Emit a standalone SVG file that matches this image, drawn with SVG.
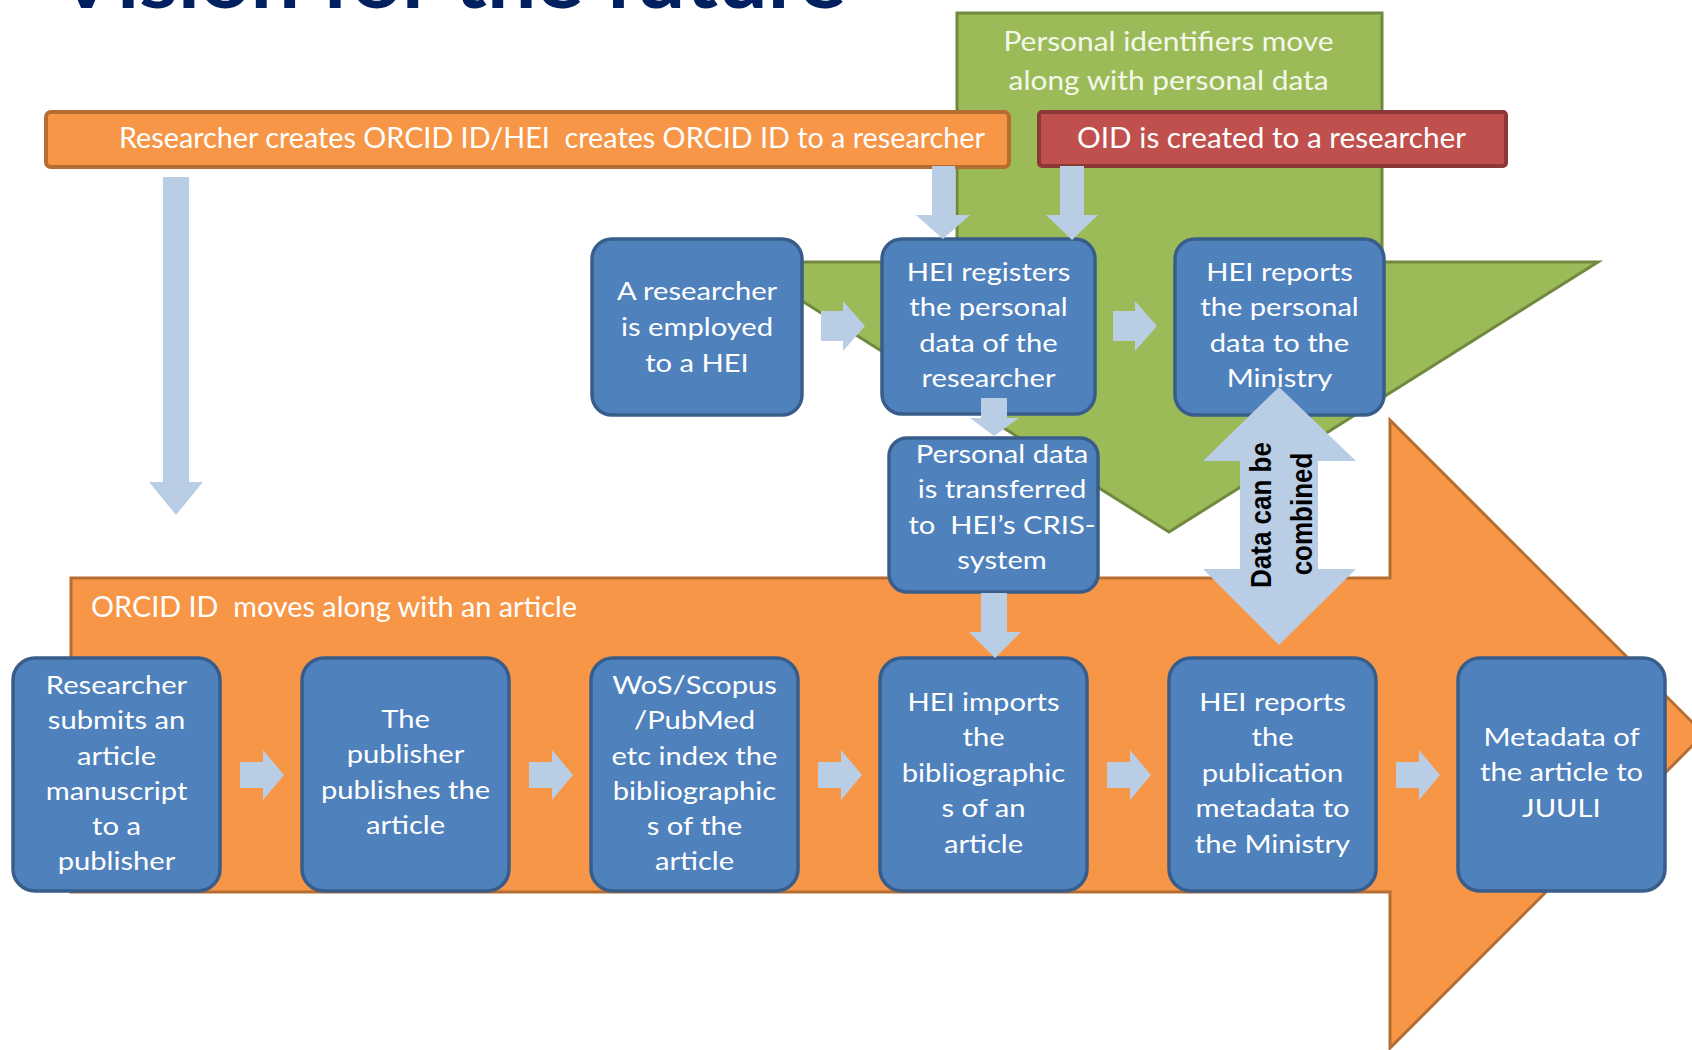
<svg xmlns="http://www.w3.org/2000/svg" width="1692" height="1050" viewBox="0 0 1692 1050">
<style>
.bx{fill:#4f81bd;stroke:#385d8a;stroke-width:3.5}
.ar{fill:#b9cde5;stroke:none}
.bt{font-family:Lato,"Noto Sans",sans-serif;font-size:24.5px;fill:#ffffff;text-anchor:middle}
.lt{font-family:Lato,"Noto Sans",sans-serif;font-size:28px;fill:#ffffff}
.gt{font-family:Lato,"Noto Sans",sans-serif;font-size:27px;fill:#f4f8ea}
.dt{font-family:"Liberation Sans",Arial,sans-serif;font-size:26px;font-weight:700;fill:#000000;text-anchor:middle}
</style>
<rect width="1692" height="1050" fill="#ffffff"/>
<text x="56" y="8" font-family="Lato, 'Liberation Sans', sans-serif" font-weight="700" font-size="80" fill="#002060" textLength="790" lengthAdjust="spacingAndGlyphs">Vision for the future</text>

<g id="background-shapes">
  <polygon id="green-arrow" points="957,13 1382,13 1382,262 1598,262 1169,532 740,262 957,262" fill="#9bbb59" stroke="#71893f" stroke-width="3"/>
  <polygon id="orange-arrow" points="71,578 1390,578 1390,420 1704,734 1390,1048 1390,892 71,892" fill="#f79646" stroke="#b66d31" stroke-width="3"/>
</g>

<g id="bar-orcid">
  <rect x="46" y="112" width="963" height="55" rx="5" fill="#f79646" stroke="#b66d31" stroke-width="4"/>
  <text class="lt" x="119" y="148" textLength="866" lengthAdjust="spacingAndGlyphs" xml:space="preserve">Researcher creates ORCID ID/HEI  creates ORCID ID to a researcher</text>
</g>
<g id="bar-oid">
  <rect x="1039" y="112" width="467" height="54" rx="3" fill="#c0504d" stroke="#8c3836" stroke-width="4"/>
  <text class="lt" x="1077" y="148" textLength="389" lengthAdjust="spacingAndGlyphs">OID is created to a researcher</text>
</g>
<g id="label-personal-identifiers">
  <text class="gt" x="1003.5" y="51" textLength="330" lengthAdjust="spacingAndGlyphs">Personal identifiers move</text>
  <text class="gt" x="1008.6" y="90" textLength="320" lengthAdjust="spacingAndGlyphs">along with personal data</text>
</g>
<g id="label-orcid-moves">
  <text class="lt" x="91" y="617" textLength="486" lengthAdjust="spacingAndGlyphs" xml:space="preserve">ORCID ID  moves along with an article</text>
</g>

<g id="n-employed">
  <rect class="bx" x="592" y="239" width="210" height="176" rx="20"/>
  <text class="bt" transform="translate(697,0) scale(1.19,1)"><tspan x="0" y="300">A researcher</tspan><tspan x="0" y="336">is employed</tspan><tspan x="0" y="372">to a HEI</tspan></text>
</g>
<g id="n-registers">
  <rect class="bx" x="882" y="239" width="213" height="175" rx="20"/>
  <text class="bt" transform="translate(988.5,0) scale(1.19,1)"><tspan x="0" y="281">HEI registers</tspan><tspan x="0" y="316.5">the personal</tspan><tspan x="0" y="352">data of the</tspan><tspan x="0" y="387">researcher</tspan></text>
</g>
<g id="n-reports-personal">
  <rect class="bx" x="1175" y="239" width="209" height="176" rx="20"/>
  <text class="bt" transform="translate(1279.5,0) scale(1.19,1)"><tspan x="0" y="281">HEI reports</tspan><tspan x="0" y="316.5">the personal</tspan><tspan x="0" y="352">data to the</tspan><tspan x="0" y="387">Ministry</tspan></text>
</g>
<g id="n-transferred">
  <rect class="bx" x="889" y="438" width="209" height="154" rx="18"/>
  <text class="bt" transform="translate(1002,0) scale(1.19,1)" xml:space="preserve"><tspan x="0" y="463">Personal data</tspan><tspan x="0" y="498.5">is transferred</tspan><tspan x="0" y="534">to  HEI’s CRIS-</tspan><tspan x="0" y="569">system</tspan></text>
</g>

<g id="n-submits">
  <rect class="bx" x="13" y="658" width="207" height="233" rx="22"/>
  <text class="bt" transform="translate(116.5,0) scale(1.19,1)"><tspan x="0" y="694">Researcher</tspan><tspan x="0" y="729.3">submits an</tspan><tspan x="0" y="764.6">article</tspan><tspan x="0" y="799.9">manuscript</tspan><tspan x="0" y="835.2">to a</tspan><tspan x="0" y="870.5">publisher</tspan></text>
</g>
<g id="n-publishes">
  <rect class="bx" x="302" y="658" width="207" height="233" rx="22"/>
  <text class="bt" transform="translate(405.5,0) scale(1.19,1)"><tspan x="0" y="728">The</tspan><tspan x="0" y="763">publisher</tspan><tspan x="0" y="799">publishes the</tspan><tspan x="0" y="834">article</tspan></text>
</g>
<g id="n-index">
  <rect class="bx" x="591" y="658" width="207" height="233" rx="22"/>
  <text class="bt" transform="translate(694.5,0) scale(1.19,1)"><tspan x="0" y="694">WoS/Scopus</tspan><tspan x="0" y="729.3">/PubMed</tspan><tspan x="0" y="764.6">etc index the</tspan><tspan x="0" y="799.9">bibliographic</tspan><tspan x="0" y="835.2">s of the</tspan><tspan x="0" y="870.5">article</tspan></text>
</g>
<g id="n-imports">
  <rect class="bx" x="880" y="658" width="207" height="233" rx="22"/>
  <text class="bt" transform="translate(983.5,0) scale(1.19,1)"><tspan x="0" y="711">HEI imports</tspan><tspan x="0" y="746.5">the</tspan><tspan x="0" y="782">bibliographic</tspan><tspan x="0" y="817.5">s of an</tspan><tspan x="0" y="853">article</tspan></text>
</g>
<g id="n-reports-publication">
  <rect class="bx" x="1169" y="658" width="207" height="233" rx="22"/>
  <text class="bt" transform="translate(1272.5,0) scale(1.19,1)"><tspan x="0" y="711">HEI reports</tspan><tspan x="0" y="746.5">the</tspan><tspan x="0" y="782">publication</tspan><tspan x="0" y="817.5">metadata to</tspan><tspan x="0" y="853">the Ministry</tspan></text>
</g>
<g id="n-juuli">
  <rect class="bx" x="1458" y="658" width="207" height="233" rx="22"/>
  <text class="bt" transform="translate(1561.5,0) scale(1.19,1)"><tspan x="0" y="746">Metadata of</tspan><tspan x="0" y="781.5">the article to</tspan><tspan x="0" y="817">JUULI</tspan></text>
</g>

<g id="connectors">
  <polygon class="ar" points="163,177 189,177 189,482 203,482 176,515 149,482 163,482"/>
  <polygon class="ar" points="932,166 955,166 955,215 970,215 943,239 916,215 932,215"/>
  <polygon class="ar" points="1060,166 1084,166 1084,215 1098,215 1072,240 1046,215 1060,215"/>
  <polygon class="ar" points="821,311 843,311 843,301 865,326 843,351 843,341 821,341"/>
  <polygon class="ar" points="1113,311 1135,311 1135,301 1157,326 1135,351 1135,341 1113,341"/>
  <polygon class="ar" points="981,398 1007,398 1007,418 1019,418 994,436 970,418 981,418"/>
  <polygon class="ar" points="981,593 1007,593 1007,632 1021,632 995,658 969,632 981,632"/>
  <polygon class="ar" points="240,762 263,762 263,750 284,775 263,800 263,788 240,788"/>
  <polygon class="ar" points="529,762 552,762 552,750 573,775 552,800 552,788 529,788"/>
  <polygon class="ar" points="818,762 841,762 841,750 862,775 841,800 841,788 818,788"/>
  <polygon class="ar" points="1107,762 1130,762 1130,750 1151,775 1130,800 1130,788 1107,788"/>
  <polygon class="ar" points="1396,762 1419,762 1419,750 1440,775 1419,800 1419,788 1396,788"/>
  <g id="combine-arrow">
    <polygon class="ar" points="1279,387 1356,461 1318,461 1318,569 1356,569 1279,645 1203,569 1240,569 1240,461 1203,461"/>
    <text class="dt" transform="translate(1271,515) scale(1.12,1) rotate(-90)">Data can be</text>
    <text class="dt" transform="translate(1312,514) scale(1.12,1) rotate(-90)">combined</text>
  </g>
</g>
</svg>
